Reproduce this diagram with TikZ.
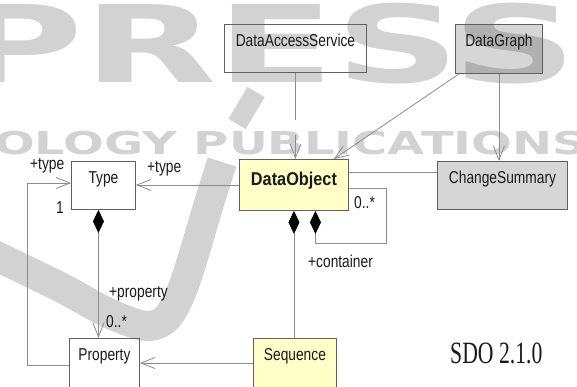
\documentclass[tikz,border=0pt]{standalone}
\usepackage{fontspec}
\setmainfont{Liberation Sans}[FakeStretch=0.8]
\newfontfamily\dofont{Liberation Sans}[FakeStretch=0.88]
\newfontfamily\sdofont{Liberation Serif}[FakeStretch=0.7]
\newfontfamily\wmfontA{DejaVu Sans}[FakeStretch=1.62]
\newfontfamily\wmfontB{DejaVu Sans}[FakeStretch=1.52]
\usetikzlibrary{arrows.meta}
\definecolor{linec}{HTML}{8C8C8C}
\definecolor{boxc}{HTML}{606060}
\definecolor{yel}{HTML}{FFFFC8}
\definecolor{wm}{HTML}{D2D2D2}
\definecolor{txt}{HTML}{1A1A1A}
\begin{document}
\begin{tikzpicture}[x=1pt,y=-1pt,
  every node/.style={text=txt},
  lbl/.style={font=\fontsize{17.2}{19}\selectfont, inner sep=0pt, anchor=base west},
  classbox/.style={draw=boxc, line width=0.9pt, inner xsep=0pt, inner ysep=0pt,
    anchor=north west, text height=22pt, font=\fontsize{17.2}{19}\selectfont},
  greyfill/.style={fill=black, fill opacity=0.16, text opacity=1},
  conn/.style={draw=linec, line width=0.8pt},
  openarr/.style={-{Straight Barb[length=14pt,width=11pt]}},
  compos/.style={{Diamond[length=23pt,width=11pt,color=black]}-},
]
\useasboundingbox (0,0) rectangle (577,387);
\clip (0,0) rectangle (577,387);
\fill[white] (0,0) rectangle (577,387);

% watermark
\node[anchor=base west, inner sep=0pt, text=wm,
  font=\wmfontA\bfseries\fontsize{107}{112}\selectfont] (wmA) at (-44,83) {PRESS};
\node[anchor=base west, inner sep=0pt, text=wm,
  font=\wmfontB\bfseries\fontsize{31.5}{33}\selectfont] (wmB) at (-6,155) {OLOGY PUBLICATIONS};
\draw[wm, line width=30pt] plot[smooth, tension=0.6] coordinates
  {(-10,253) (60,287) (115,316) (155,325) (180,295) (210,200) (222,162)};
\draw[wm, line width=20pt] (237,124) -- (256,92);

% classes
\node[classbox, minimum width=142pt, text depth=26pt] (das) at (224,24) {DataAccessService};
\node[classbox, greyfill, minimum width=87pt, text depth=27pt] (dg) at (455,24) {DataGraph};
\node[classbox, greyfill, minimum width=130pt, text depth=26pt] (cs) at (437,161) {ChangeSummary};
\node[classbox, fill=yel, minimum width=109pt, text height=26pt, text depth=25pt,
  font=\dofont\bfseries\fontsize{18.5}{20}\selectfont] (do) at (239,159) {DataObject};
\node[classbox, minimum width=64pt, text depth=26pt] (type) at (71,161) {Type};
\node[classbox, minimum width=70pt, text depth=38pt] (prop) at (69,338) {Property};
\node[classbox, fill=yel, minimum width=83pt, text depth=38pt] (seq) at (253,338) {Sequence};

% connectors
\draw[conn, openarr, dash pattern=on 47pt off 15pt] (das.south) -- (das.south |- do.north);
\draw[conn, openarr] ([xshift=4pt]dg.south west) -- ([xshift=-15pt]do.north east);
\draw[conn, openarr] (dg.south) -- (dg.south |- cs.north);
\draw[conn] ([yshift=-13pt]do.north east) -- ([yshift=-13pt]do.north east -| cs.west);
\draw[conn, openarr] (do.west) -- (do.west -| type.east);
\coordinate (lcorner) at (27,365);
\draw[conn, openarr] ([yshift=-27pt]prop.north west) -- (lcorner) |- ([yshift=-22pt]type.north west);
\draw[conn, {Diamond[length=23pt,width=11pt,color=black]}-{Straight Barb[length=14pt,width=11pt]}]
  ([xshift=-5pt]type.south) -- ([xshift=-5pt]type.south |- prop.north);
\draw[conn, compos] (do.south) -- (do.south |- seq.north);
\coordinate (rcorner) at (386,243);
\draw[conn, compos] ([xshift=21.5pt]do.south) |- (rcorner) |- ([yshift=-29pt]do.north east);
\draw[conn, openarr] ([yshift=-25pt]seq.north west) -- ([yshift=-25pt]seq.north west -| prop.east);

% labels
\node[lbl] (ltypeA) at (147,173) {+type};
\node[lbl] (ltypeB) at (30,170) {+type};
\node[lbl] (lone) at (56,213) {1};
\node[lbl] (lprop) at (109,297) {+property};
\node[lbl] (lmultA) at (106,327) {0..*};
\node[lbl] (lmultB) at (354,208) {0..*};
\node[lbl] (lcont) at (308,267) {+container};
\node[inner sep=0pt, anchor=base west, font=\sdofont\fontsize{31}{33}\selectfont] (sdo) at (450,363) {SDO 2.1.0};
\end{tikzpicture}
\end{document}
